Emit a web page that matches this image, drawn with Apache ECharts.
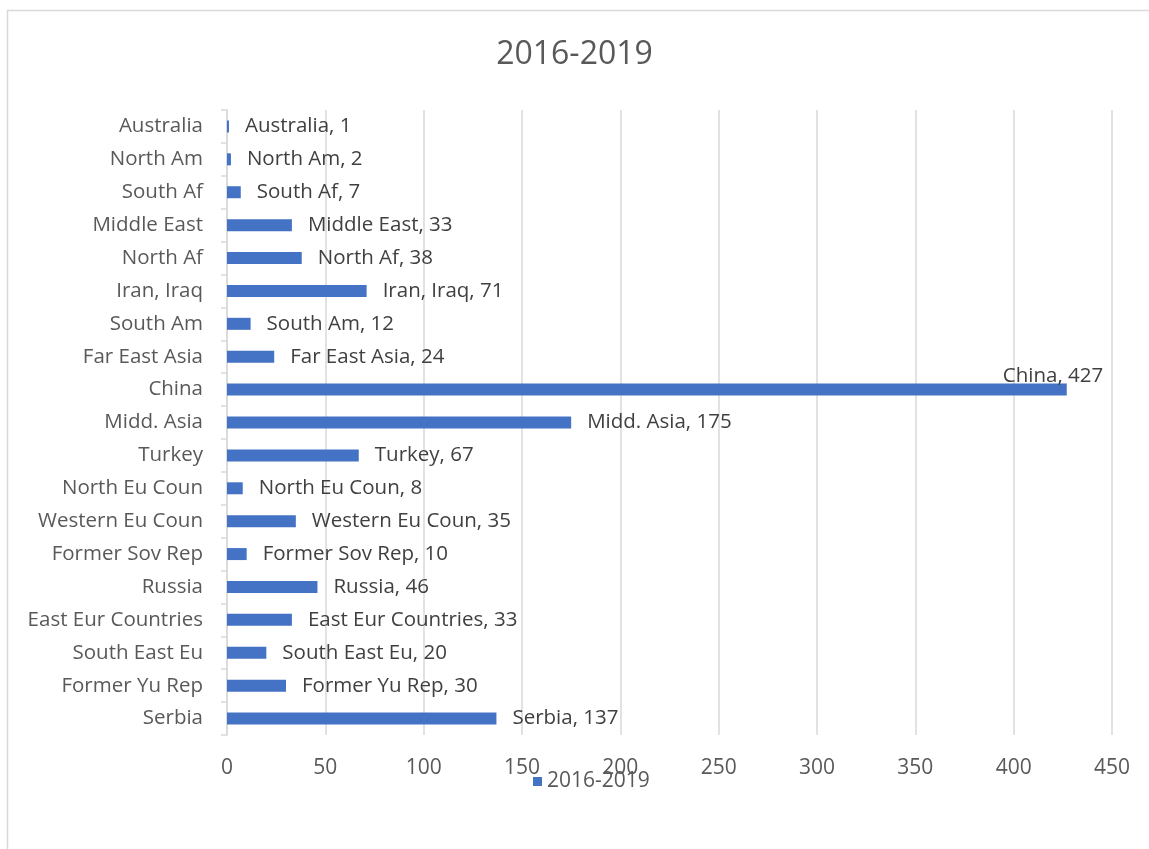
<!DOCTYPE html>
<html>
<head>
<meta charset="utf-8">
<script src="https://cdn.jsdelivr.net/npm/echarts@6/dist/echarts.min.js"></script>
<style>
html, body { margin: 0; padding: 0; background: #fff; }
#chart { width: 1149px; height: 849px; }
</style>
</head>
<body>
<div id="chart"></div>
<script>
// regions, bottom to top as drawn on the axis
var regions = ['Serbia', 'Former Yu Rep', 'South East Eu', 'East Eur Countries', 'Russia',
    'Former Sov Rep', 'Western Eu Coun', 'North Eu Coun', 'Turkey', 'Midd. Asia', 'China',
    'Far East Asia', 'South Am', 'Iran, Iraq', 'North Af', 'Middle East', 'South Af',
    'North Am', 'Australia'];
var counts = [137, 30, 20, 33, 46, 10, 35, 8, 67, 175, 427, 24, 12, 71, 38, 33, 7, 2, 1];
var xTicks = [0, 50, 100, 150, 200, 250, 300, 350, 400, 450];

var font = '"Open Sans", Lato, sans-serif';

var barData = counts.map(function (v, i) {
    var item = { value: v };
    // the China label sits back over the end of the bar
    if (regions[i] === 'China') {
        item.label = { offset: [-80, -13] };
    }
    return item;
});

var myChart = echarts.init(document.getElementById('chart'));
var option = {
    animation: false,
    backgroundColor: '#fff',
    title: {
        text: '2016-2019',
        left: 'center',
        top: 34,
        textStyle: { fontFamily: font, fontSize: 32, fontWeight: 'normal', color: '#595959' }
    },
    legend: {
        bottom: 52,
        left: 528,
        itemWidth: 9,
        itemHeight: 9,
        itemGap: 8,
        icon: 'rect',
        textStyle: { fontFamily: font, fontSize: 21, color: '#595959' },
        data: ['2016-2019']
    },
    graphic: [{
        type: 'rect',
        shape: { x: 7.5, y: 10.5, width: 1300, height: 1000 },
        style: { fill: 'none', stroke: '#d9d9d9', lineWidth: 1.5 },
        silent: true
    }],
    grid: { left: 227, right: 37, top: 110, bottom: 114 },
    xAxis: {
        type: 'value',
        min: xTicks[0],
        max: xTicks[xTicks.length - 1],
        interval: 50,
        axisLine: { show: false },
        axisTick: { show: false },
        axisLabel: { fontFamily: font, fontSize: 21, color: '#595959', margin: 23 },
        splitLine: { lineStyle: { color: '#d9d9d9', width: 1.5 } }
    },
    yAxis: {
        type: 'category',
        data: regions,
        axisLine: { lineStyle: { color: '#d9d9d9', width: 1.5 } },
        axisTick: { show: true, length: 6, lineStyle: { color: '#d9d9d9', width: 1.5 } },
        axisLabel: { fontFamily: font, fontSize: 20.5, color: '#595959', margin: 24 }
    },
    series: [{
        name: '2016-2019',
        type: 'bar',
        barWidth: 12,
        itemStyle: { color: '#4472c4' },
        label: {
            show: true,
            position: 'right',
            distance: 16,
            fontFamily: font,
            fontSize: 20.5,
            color: '#404040',
            formatter: function (p) { return p.name + ', ' + p.value; }
        },
        data: barData
    }]
};
myChart.setOption(option);
</script>
</body>
</html>
